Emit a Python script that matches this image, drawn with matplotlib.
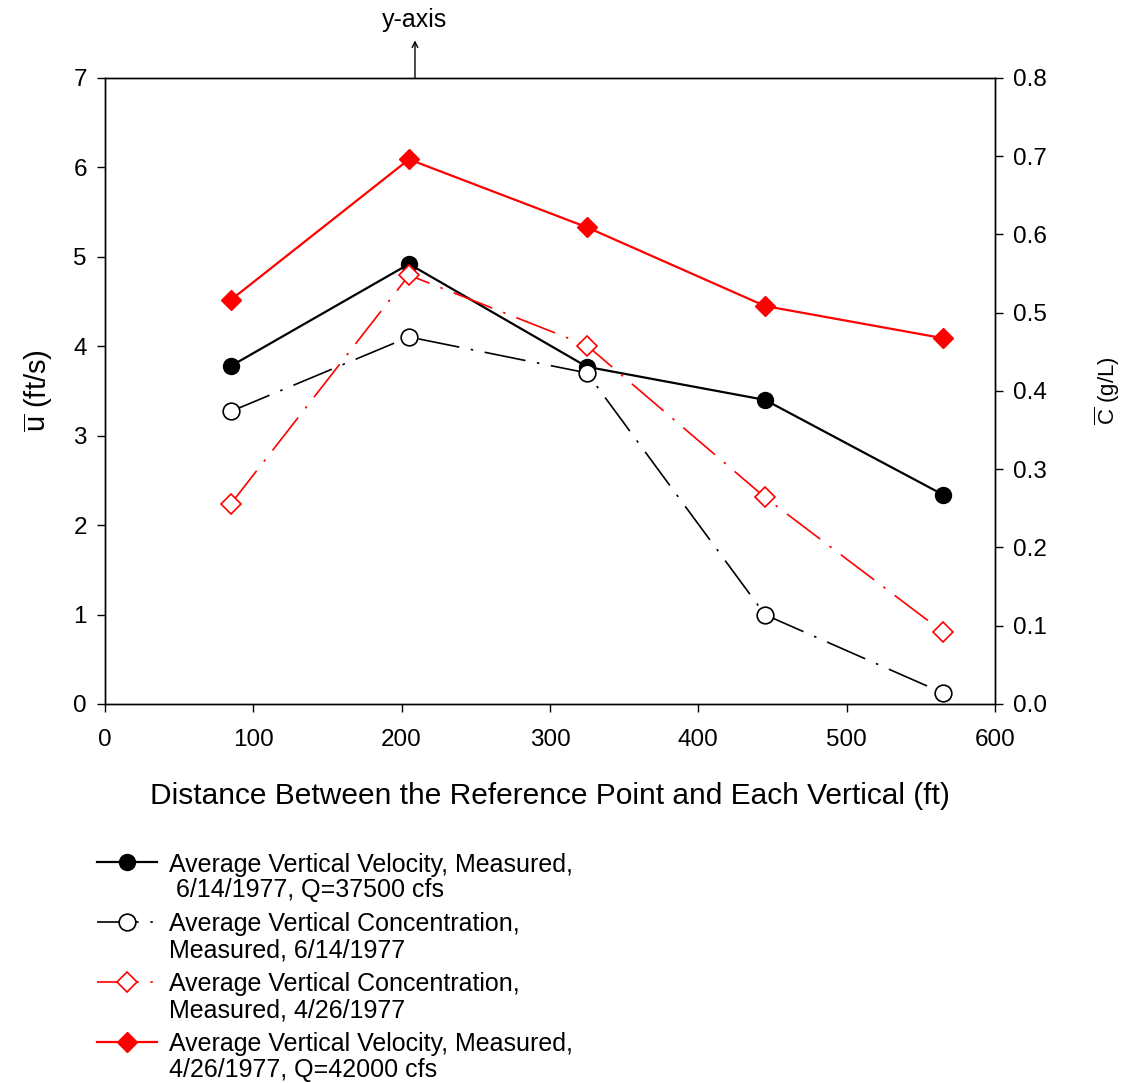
import matplotlib.pyplot as plt
import numpy as np
from matplotlib.legend_handler import HandlerLine2D

plt.rcParams['font.family'] = ['Liberation Sans', 'DejaVu Sans']
plt.rcParams['mathtext.fontset'] = 'custom'
plt.rcParams['mathtext.rm'] = 'Liberation Sans'
plt.rcParams['mathtext.it'] = 'Liberation Sans'

# distance between reference point and each vertical (ft)
distance = [85, 205, 325, 445, 565]
# average vertical velocity (ft/s), left axis
vel_0614 = [3.78, 4.92, 3.77, 3.40, 2.34]
vel_0426 = [4.52, 6.09, 5.33, 4.45, 4.09]
# average vertical concentration (g/L), right axis
conc_0614 = [0.374, 0.469, 0.423, 0.114, 0.014]
conc_0426 = [0.256, 0.548, 0.458, 0.264, 0.092]

labels = ['Average Vertical Velocity, Measured,\n 6/14/1977, Q=37500 cfs',
          'Average Vertical Concentration,\nMeasured, 6/14/1977',
          'Average Vertical Concentration,\nMeasured, 4/26/1977',
          'Average Vertical Velocity, Measured,\n4/26/1977, Q=42000 cfs']


class TopLineHandler(HandlerLine2D):
    # put the legend handle next to the first text line instead of the middle
    def create_artists(self, legend, orig_handle, xdescent, ydescent,
                       width, height, fontsize, trans):
        shift = 11.5
        return super().create_artists(legend, orig_handle, xdescent, ydescent,
                                      width, height + 2 * shift, fontsize, trans)


fig = plt.figure(figsize=(11.25, 10.83), dpi=100)
ax = fig.add_axes([0.0933, 0.35, 0.7911, 0.578])
ax2 = ax.twinx()

dashdot = (0, (25, 7, 1.5, 7))

l1, = ax.plot(distance, vel_0614, color='black', lw=1.6, marker='o', ms=11.5,
              mfc='black', mec='black', label=labels[0], zorder=3)
l4, = ax.plot(distance, vel_0426, color='red', lw=1.6, marker='D', ms=10,
              mfc='red', mec='red', label=labels[3], zorder=3)
l2, = ax2.plot(distance, conc_0614, color='black', lw=1.2, ls=dashdot, marker='o',
               ms=12, mfc='white', mec='black', mew=1.2, label=labels[1], zorder=4)
l3, = ax2.plot(distance, conc_0426, color='red', lw=1.2, ls=dashdot, marker='D',
               ms=10.5, mfc='white', mec='red', mew=1.2, label=labels[2], zorder=4)

ax.set_xlim(0, 600)
ax.set_ylim(0, 7)
ax2.set_ylim(0, 0.8)
ax.set_xticks(np.arange(0, 700, 100))
ax.set_yticks(np.arange(0, 8, 1))
ax2.set_yticks(np.arange(0, 0.9, 0.1))
ax2.set_yticklabels(['%.1f' % v for v in np.arange(0, 0.9, 0.1)])

for a in (ax, ax2):
    a.tick_params(direction='out', length=6, width=1, labelsize=17.5, pad=7)
    for s in a.spines.values():
        s.set_linewidth(1)
ax.tick_params(axis='x', pad=12)

ax.set_xlabel('Distance Between the Reference Point and Each Vertical (ft)',
              fontsize=21.5, labelpad=22)
ax.set_ylabel(r'$\overline{\mathrm{u}}$ (ft/s)', fontsize=21, labelpad=13)
ax2.set_ylabel(r'$\overline{\mathrm{C}}$ (g/L)', fontsize=16, labelpad=33)

# arrow pointing up from the top spine to the "y-axis" note
ax.annotate('', xy=(209, 7.42), xycoords='data',
            xytext=(209, 7), textcoords='data', annotation_clip=False,
            arrowprops=dict(arrowstyle='->', color='black', lw=1,
                            shrinkA=0, shrinkB=0))
ax.text(209, 7.65, 'y-axis', ha='center', va='center', fontsize=18)

leg = fig.legend(handles=[l1, l2, l3, l4], loc='upper left',
                 bbox_to_anchor=(0.077, 0.222), frameon=False, fontsize=18,
                 handlelength=2.4, handletextpad=0.5, labelspacing=0.4,
                 borderaxespad=0, handler_map={plt.Line2D: TopLineHandler()})
for t in leg.get_texts():
    t.set_linespacing(1.1)

fig.savefig('out.png', dpi=100)
